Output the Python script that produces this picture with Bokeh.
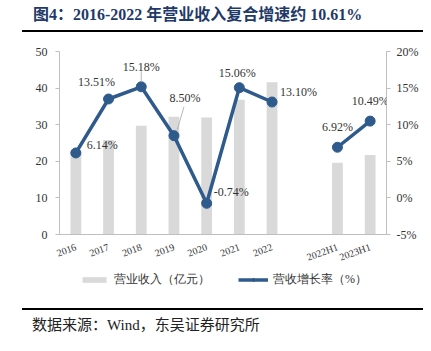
from bokeh.plotting import figure
from bokeh.models import (FactorRange, Range1d, LinearAxis, FixedTicker, PrintfTickFormatter,
                          Legend, LegendItem, Div, ColumnDataSource, LabelSet)
from bokeh.layouts import column
from bokeh.core.properties import value
from bokeh.embed import file_html
from bokeh.resources import INLINE

# ---------------- data ----------------
categories = ["2016", "2017", "2018", "2019", "2020", "2021", "2022", " ", "2022H1", "2023H1"]
bar_cats = ["2016", "2017", "2018", "2019", "2020", "2021", "2022", "2022H1", "2023H1"]
revenue = [22.7, 25.8, 29.7, 32.2, 32.0, 36.8, 41.6, 19.6, 21.7]          # 亿元
growth = [6.14, 13.51, 15.18, 8.50, -0.74, 15.06, 13.10, 6.92, 10.49]     # %
growth_labels = ["6.14%", "13.51%", "15.18%", "8.50%", "-0.74%", "15.06%", "13.10%", "6.92%", "10.49%"]
left_ticks = [0, 10, 20, 30, 40, 50]
right_ticks = [-5, 0, 5, 10, 15, 20]
series_names = ["营业收入（亿元）", "营收增长率（%）"]

# label placement (screen px, styling only)
label_dx = [11, -12, 0, 11, 7, -2, 8, 0, 0]
label_dy = [8, 17, 20, 38, 11, 15, 10, 20, 20]
label_align = ["left", "center", "center", "center", "left", "center", "left", "center", "center"]

FONT_STR = "Liberation Serif"
FONT = value(FONT_STR)
LINE_C = "#2E5A8C"
BAR_C = "#D9D9D9"
AXIS_C = "#BFBFBF"
TXT_C = "#333333"

W, H = 431, 234
ML, MR, MT, MB = 59, 45, 15, 35

p = figure(width=W, height=H, x_range=FactorRange(factors=categories),
           y_range=Range1d(left_ticks[0], left_ticks[-1]),
           output_backend="svg", toolbar_location=None,
           min_border_left=ML, min_border_right=MR, min_border_top=MT, min_border_bottom=MB)
p.extra_y_ranges = {"pct": Range1d(right_ticks[0], right_ticks[-1])}
p.outline_line_color = None
p.xgrid.visible = False
p.ygrid.visible = False
p.background_fill_color = "white"
p.border_fill_color = "white"

bars = p.vbar(x=bar_cats, top=revenue, width=0.33, color=BAR_C, line_color=None)

n_year = 7
l1 = p.line(x=bar_cats[:n_year], y=growth[:n_year], y_range_name="pct", line_color=LINE_C, line_width=3.5)
s1 = p.scatter(x=bar_cats[:n_year], y=growth[:n_year], y_range_name="pct", size=10,
               fill_color=LINE_C, line_color=LINE_C)
l2 = p.line(x=bar_cats[n_year:], y=growth[n_year:], y_range_name="pct", line_color=LINE_C, line_width=3.5)
s2 = p.scatter(x=bar_cats[n_year:], y=growth[n_year:], y_range_name="pct", size=10,
               fill_color=LINE_C, line_color=LINE_C)

# leader lines (from point, offsets in px converted through the scales)
frame_w = W - ML - MR
frame_h = H - MT - MB
px_cat = frame_w / len(categories)
px_pct = frame_h / (right_ticks[-1] - right_ticks[0])
lead_idx = [2, 3]
lead = dict(x0=[], y0=[], x1=[], y1=[])
lead_off = {2: (0, 4.5, 0, 15.5), 3: (3, 5, 10, 29)}
for i in lead_idx:
    ci = categories.index(bar_cats[i]) + 0.5
    a, b, c, d = lead_off[i]
    lead["x0"].append(ci + a / px_cat)
    lead["y0"].append(growth[i] + b / px_pct)
    lead["x1"].append(ci + c / px_cat)
    lead["y1"].append(growth[i] + d / px_pct)
p.segment(x0="x0", y0="y0", x1="x1", y1="y1", source=ColumnDataSource(lead),
          y_range_name="pct", line_color="#A6A6A6", line_width=0.8)

lab_src = ColumnDataSource(dict(x=bar_cats, y=growth, t=growth_labels,
                                dx=label_dx, dy=label_dy, al=label_align))
labels = LabelSet(x="x", y="y", text="t", source=lab_src, y_range_name="pct",
                  x_offset="dx", y_offset="dy", text_align="al", text_baseline="middle",
                  text_font=FONT, text_font_size="12px", text_color=TXT_C)
p.add_layout(labels)

# axes
xa = p.xaxis[0]
xa.axis_line_color = AXIS_C
xa.major_tick_line_color = None
xa.minor_tick_line_color = None
xa.major_label_orientation = 0.35
xa.major_label_text_font = FONT_STR
xa.major_label_text_font_size = "10px"
xa.major_label_text_color = TXT_C
xa.major_label_standoff = 6

ya = p.yaxis[0]
ya.ticker = FixedTicker(ticks=left_ticks)
ya.axis_line_color = AXIS_C
ya.major_tick_line_color = AXIS_C
ya.major_tick_out = 4
ya.major_tick_in = 0
ya.minor_tick_line_color = None
ya.major_label_text_font = FONT_STR
ya.major_label_text_font_size = "12px"
ya.major_label_text_color = TXT_C
ya.major_label_standoff = 8

ra = LinearAxis(y_range_name="pct", ticker=FixedTicker(ticks=right_ticks),
                formatter=PrintfTickFormatter(format="%d%%"))
ra.axis_line_color = AXIS_C
ra.major_tick_line_color = AXIS_C
ra.major_tick_out = 4
ra.major_tick_in = 0
ra.minor_tick_line_color = None
ra.major_label_text_font = FONT_STR
ra.major_label_text_font_size = "12px"
ra.major_label_text_color = TXT_C
ra.major_label_standoff = 6
p.add_layout(ra, "right")

# ---- legend strip (separate small figure so the legend is not clipped) ----
pl = figure(width=W, height=30, x_range=Range1d(0, 1), y_range=Range1d(0, 1),
            x_axis_location=None, y_axis_location=None,
            output_backend="svg", toolbar_location=None, min_border=0)
pl.grid.visible = False
pl.outline_line_color = None
# legend-key renderers kept outside the visible range of this strip
lb = pl.vbar(x=[-5], top=[-4], bottom=[-5], width=0.3, color=BAR_C, line_color=None)
ll = pl.line(x=[-5, -4], y=[-5, -5], line_color=LINE_C, line_width=3.5)
ls = pl.scatter(x=[-5], y=[-5], size=10, fill_color=LINE_C, line_color=LINE_C)
legend = Legend(items=[LegendItem(label=series_names[0], renderers=[lb]),
                       LegendItem(label=series_names[1], renderers=[ll, ls])],
                orientation="horizontal", location=(20, 12),
                glyph_width=30, glyph_height=7, label_height=14, label_standoff=5, spacing=28,
                padding=2, margin=0, border_line_color=None, background_fill_alpha=0,
                label_text_font=FONT_STR, label_text_font_size="12px", label_text_color=TXT_C)
pl.add_layout(legend)

title_div = Div(text=(
    '<div style="position:relative;width:431px;height:36px;">'
    '<div style="position:absolute;left:33px;top:5px;font-family:\'Liberation Serif\',\'Noto Sans CJK SC\',serif;'
    'font-weight:bold;font-size:16px;color:#1F3A68;line-height:20px;white-space:nowrap;">'
    '图4：2016-2022 年营业收入复合增速约 10.61%</div>'
    '<div style="position:absolute;left:22px;top:30px;width:401px;height:0;border-top:2px solid #000;"></div>'
    '</div>'), width=431, height=36, margin=0)

src_div = Div(text=(
    '<div style="position:relative;width:431px;height:51px;">'
    '<div style="position:absolute;left:22px;top:8px;width:401px;height:0;border-top:2px solid #000;"></div>'
    '<div style="position:absolute;left:32px;top:16px;font-family:\'Liberation Serif\',\'Noto Sans CJK SC\',serif;'
    'font-size:15px;color:#222;line-height:18px;white-space:nowrap;">数据来源：Wind，东吴证券研究所</div>'
    '</div>'), width=431, height=51, margin=0)

layout = column(title_div, p, pl, src_div, spacing=0, margin=0)
open("out.html", "w").write(file_html(layout, INLINE))
